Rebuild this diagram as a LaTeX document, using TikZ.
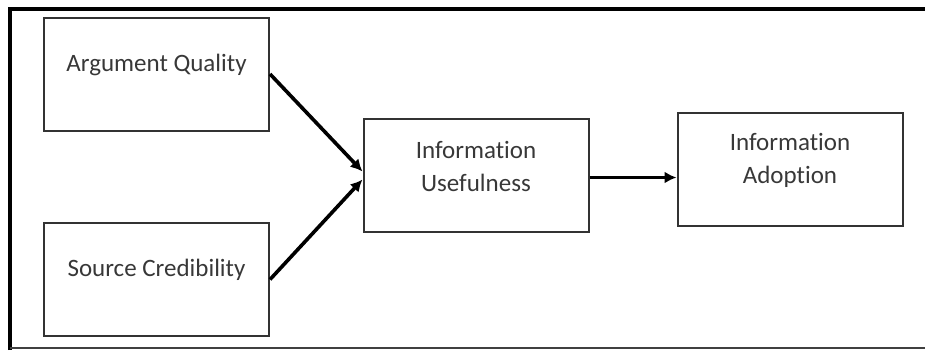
\documentclass[tikz,border=0pt]{standalone}
\usepackage{fontspec}
\setmainfont[Ligatures=NoCommon]{Carlito}
\usetikzlibrary{arrows.meta,positioning}

\begin{document}
\begin{tikzpicture}[
    x=0.5pt, y=-0.5pt,
    box/.style={draw=black!80, line width=1pt, minimum width=112.5pt, minimum height=56.5pt, inner sep=0pt},
    lbl/.style={align=center, text=black!78, font=\fontsize{12.5}{16.5}\selectfont, inner sep=0pt, yshift=4.75pt},
    arrow/.style={-{Latex[length=6pt, width=6pt]}, line width=1.8pt}
]
\useasboundingbox (0,0) rectangle (925,350);
% frame
\draw[line width=2pt] (10,350) -- (10,9) -- (925,9);
\draw[line width=1pt, black!75] (10,348) -- (925,348);
% boxes
\node[box] (aq) at (156.5,74) {};
\node[box] (sc) at (156.5,279.5) {};
\node[box] (iu) at (476,175.5) {};
\node[box] (ia) at (790,169.5) {};
\node[lbl] (aqt) at (aq.center) {Argument Quality};
\node[lbl] (sct) at (sc.center) {Source Credibility};
\node[lbl] (iut) at (iu.center) {Information\\Usefulness};
\node[lbl] (iat) at (ia.center) {Information\\Adoption};
% arrows
\draw[arrow] (aq.east) -- ([yshift=2pt]iu.west);
\draw[arrow] (sc.east) -- ([yshift=-2pt]iu.west);
\draw[arrow] ([yshift=-1pt]iu.east) -- ([yshift=-1pt]iu.east -| ia.west);
\end{tikzpicture}
\end{document}
